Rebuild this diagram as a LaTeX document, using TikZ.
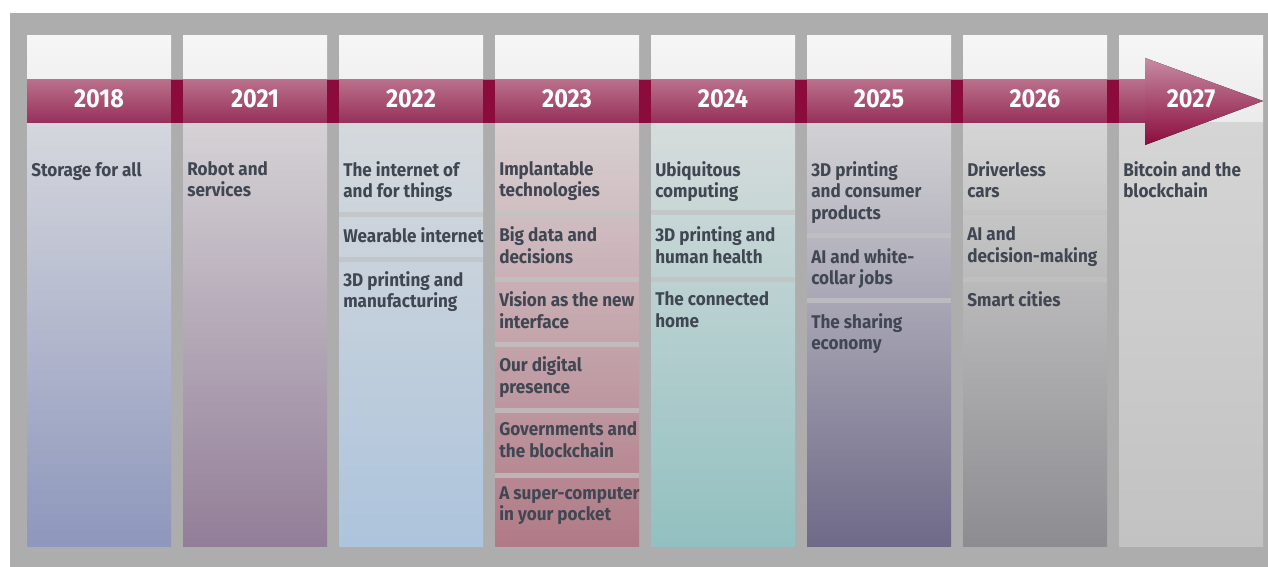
\documentclass[tikz,border=0pt]{standalone}
\usepackage{fontspec}
\setmainfont{Fira Sans}[FakeStretch=0.93]
\newfontfamily\yearfont{Fira Sans}[FakeStretch=0.9]
\usetikzlibrary{calc}

\definecolor{frame}{HTML}{ADADAD}
\definecolor{band}{HTML}{8B0B3D}
\definecolor{bandtop}{HTML}{B9708A}
\definecolor{bandbot}{HTML}{96305A}
\definecolor{headtop}{HTML}{C68CA2}
\definecolor{txt}{HTML}{414752}
\definecolor{gloss}{HTML}{F6F6F6}
\definecolor{glossbot}{HTML}{EBEBEB}
\definecolor{cut}{HTML}{C2C2C2}
% column tints: top, bottom
\definecolor{topA}{HTML}{D5D7DD}\definecolor{botA}{HTML}{8E97BC}
\definecolor{topB}{HTML}{D5D2D5}\definecolor{botB}{HTML}{927E98}
\definecolor{topC}{HTML}{D5D9DC}\definecolor{botC}{HTML}{ADC4DC}
\definecolor{topD}{HTML}{D8D0D2}\definecolor{botD}{HTML}{B07A86}
\definecolor{topE}{HTML}{D6DCDC}\definecolor{botE}{HTML}{92C0C0}
\definecolor{topF}{HTML}{D2D2D5}\definecolor{botF}{HTML}{6F6A88}
\definecolor{topG}{HTML}{D5D5D5}\definecolor{botG}{HTML}{8D8C90}
\definecolor{topH}{HTML}{D5D5D5}\definecolor{botH}{HTML}{C2C2C2}

\tikzset{
  year/.style={text=white,inner sep=0pt,font=\yearfont\bfseries\fontsize{19.5}{22}\selectfont},
  item/.style={anchor=north west,align=left,inner sep=0pt,text=txt,
    font=\bfseries\fontsize{13.8}{16.1}\selectfont,execute at begin node=\strut},
  sep/.style={fill=cut,opacity=0.75}
}

\begin{document}
\begin{tikzpicture}[x=0.75pt,y=-0.75pt]
\useasboundingbox (0,0) rectangle (1268,567);
% sizes (pixels)
\pgfmathsetmacro{\w}{144} % column width
\pgfmathsetmacro{\p}{156} % column pitch
\pgfmathsetmacro{\up}{15} % baseline to strut top

% frame
\fill[frame] (10,13) rectangle (1268,567);

% columns
\foreach \c [count=\i from 0] in {A,B,C,D,E,F,G,H}{
  \pgfmathsetmacro{\x}{27+\i*\p}
  \fill[top color=gloss,bottom color=glossbot] (\x,36) rectangle (\x+\w,123);
  \fill[top color=top\c,bottom color=bot\c] (\x,123) rectangle (\x+\w,546);
}

% separators between topics
\fill[sep] (339,212) rectangle (483,217);
\fill[sep] (339,257) rectangle (483,262);
\foreach \s in {212,277,342,408,473}
  \fill[sep] (495,\s) rectangle (639,\s+5);
\fill[sep] (651,210) rectangle (795,215);
\fill[sep] (651,277) rectangle (795,282);
\fill[sep] (807,233) rectangle (951,238);
\fill[sep] (807,298) rectangle (951,303);
\fill[sep] (963,210) rectangle (1107,215);
\fill[sep] (963,277) rectangle (1107,282);

% time arrow
\fill[top color=bandtop,bottom color=bandbot] (27,80) rectangle (1145,123);
\foreach \i in {1,...,7}
  \fill[band] (15+\i*\p,80) rectangle (27+\i*\p,123);
\coordinate (tip) at (1263,101);
\fill[top color=headtop,bottom color=band] (1145,58) -- (tip) -- (1145,145) -- cycle;

% years
\node[year] (y2018) at (99,99) {2018};
\node[year] (y2021) at (255,99) {2021};
\node[year] (y2022) at (411,99) {2022};
\node[year] (y2023) at (567,99) {2023};
\node[year] (y2024) at (723,99) {2024};
\node[year] (y2025) at (879,99) {2025};
\node[year] (y2026) at (1035,99) {2026};
\node[year] (y2027) at (1191,99) {2027};

% topics
\node[item] (storage) at (31,176-\up) {Storage for all};
\node[item] (robot) at (187,176-\up) {Robot and\\services};
\node[item] (things) at (343,176-\up) {The internet of\\and for things};
\node[item] (wearable) at (343,242-\up) {Wearable internet};
\node[item] (manuf) at (343,286-\up) {3D printing and\\manufacturing};
\node[item] (implant) at (499,176-\up) {Implantable\\technologies};
\node[item] (bigdata) at (499,241.5-\up) {Big data and\\decisions};
\node[item] (vision) at (499,306.5-\up) {Vision as the new\\interface};
\node[item] (presence) at (499,371.5-\up) {Our digital\\presence};
\node[item] (govern) at (499,436.5-\up) {Governments and\\the blockchain};
\node[item] (pocket) at (499,501.5-\up) {A super-computer\\in your pocket};
\node[item] (ubiq) at (655,176-\up) {Ubiquitous\\computing};
\node[item] (health) at (655,241.5-\up) {3D printing and\\human health};
\node[item] (home) at (655,306.5-\up) {The connected\\home};
\node[item] (consumer) at (811,176-\up) {3D printing\\and consumer\\products};
\node[item] (collar) at (811,263-\up) {AI and white-\\collar jobs};
\node[item] (sharing) at (811,328-\up) {The sharing\\economy};
\node[item] (cars) at (967,176-\up) {Driverless\\cars};
\node[item] (decide) at (967,241.5-\up) {AI and\\decision-making};
\node[item] (cities) at (967,306.5-\up) {Smart cities};
\node[item] (bitcoin) at (1123,176-\up) {Bitcoin and the\\blockchain};
\end{tikzpicture}
\end{document}
